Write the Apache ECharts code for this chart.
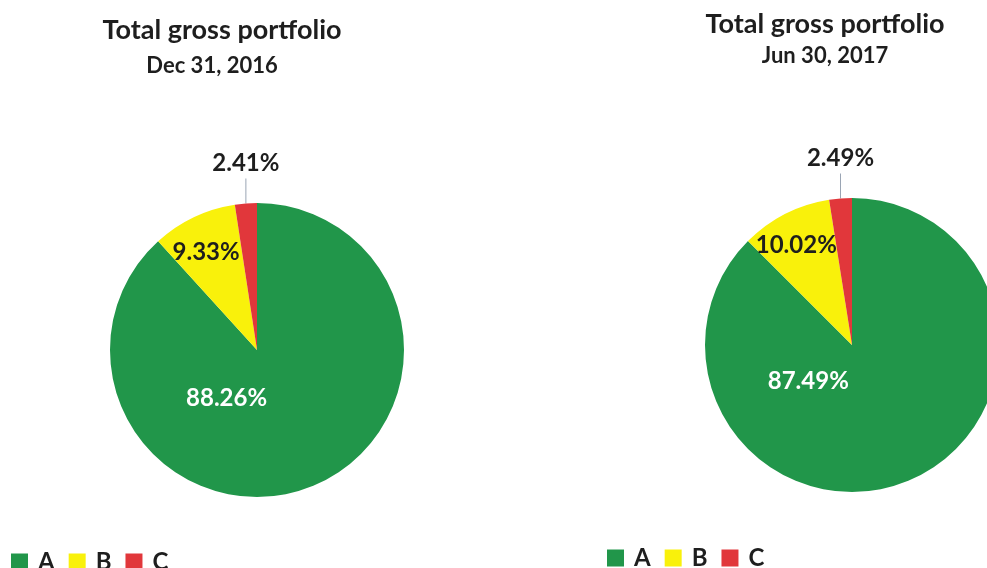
<!DOCTYPE html>
<html>
<head>
<meta charset="utf-8">
<title>Total gross portfolio</title>
<script src="https://cdn.jsdelivr.net/npm/echarts@6/dist/echarts.min.js"></script>
<style>
  html, body { margin: 0; padding: 0; background: #fff; }
  #chart { width: 987px; height: 568px; }
</style>
</head>
<body>
<div id="chart"></div>
<script>
// chart values
const categories = ['A', 'B', 'C'];
const dec2016 = [88.26, 9.33, 2.41];
const jun2017 = [87.49, 10.02, 2.49];
const chartTitle = 'Total gross portfolio';
const chartDates = ['Dec 31, 2016', 'Jun 30, 2017'];

const colors = ['#21964a', '#f9f10b', '#e1373b'];
const font = 'Lato, "Open Sans", sans-serif';

// nudges for the inside labels (Excel places them differently than echarts)
const insideShift = [
  [[-58, -23], [-18, -29]],
  [[-73, -34], [-21, -32]]
];

const chart = echarts.init(document.getElementById('chart'));

// per slice label settings: A white inside, B dark inside, C outside with a leader
function buildData(values) {
  return values.map(function (v, i) {
    return {
      name: categories[i],
      value: v,
      label: i === 2
        ? { position: 'outside' }
        : { position: 'inside', color: i === 0 ? '#ffffff' : '#1e1e1e' },
      labelLine: { show: i === 2 }
    };
  });
}

function pieSeries(values, idx, center) {
  return {
    type: 'pie',
    center: center,
    radius: 147,
    startAngle: 90,
    clockwise: true,
    avoidLabelOverlap: false,
    data: buildData(values),
    itemStyle: { borderWidth: 0 },
    label: {
      show: true,
      fontFamily: font,
      fontWeight: 'bold',
      fontSize: 24,
      color: '#1e1e1e',
      formatter: function (p) { return p.value.toFixed(2) + '%'; }
    },
    labelLine: {
      length: 25,
      length2: 0,
      lineStyle: { color: '#9aa5b4', width: 1 }
    },
    labelLayout: function (p) {
      if (p.dataIndex === 2 && p.labelLinePoints) {
        // straight up from the slice edge, label centred on top
        const start = p.labelLinePoints[0];
        const end = p.labelLinePoints[1];
        return {
          x: start[0],
          y: end[1] - 3,
          align: 'center',
          verticalAlign: 'bottom',
          labelLinePoints: [start, [start[0], end[1]]]
        };
      }
      const s = insideShift[idx][p.dataIndex];
      return { dx: s[0], dy: s[1] };
    },
    emphasis: { disabled: true }
  };
}

function legendAt(left, top) {
  return {
    data: categories,
    left: left,
    top: top,
    padding: 0,
    icon: 'rect',
    itemWidth: 17,
    itemHeight: 17,
    itemGap: 14,
    textStyle: {
      fontFamily: font,
      fontWeight: 'bold',
      fontSize: 24,
      color: '#1e1e1e',
      padding: [0, 0, 0, 5]
    }
  };
}

function titleAt(text, x, y, size) {
  return {
    text: text,
    left: x,
    top: y,
    padding: 0,
    textAlign: 'center',
    textStyle: {
      fontFamily: font,
      fontWeight: 'bold',
      fontSize: size,
      color: '#1e1e1e'
    }
  };
}

const option = {
  animation: false,
  color: colors,
  title: [
    titleAt(chartTitle, 222, 17, 27),
    titleAt(chartDates[0], 212, 55, 22),
    titleAt(chartTitle, 825, 11, 27),
    titleAt(chartDates[1], 825, 45, 22)
  ],
  legend: [legendAt(11, 550), legendAt(607, 546)],
  series: [
    pieSeries(dec2016, 0, [257, 350]),
    pieSeries(jun2017, 1, [852, 345])
  ]
};

chart.setOption(option);
</script>
</body>
</html>
